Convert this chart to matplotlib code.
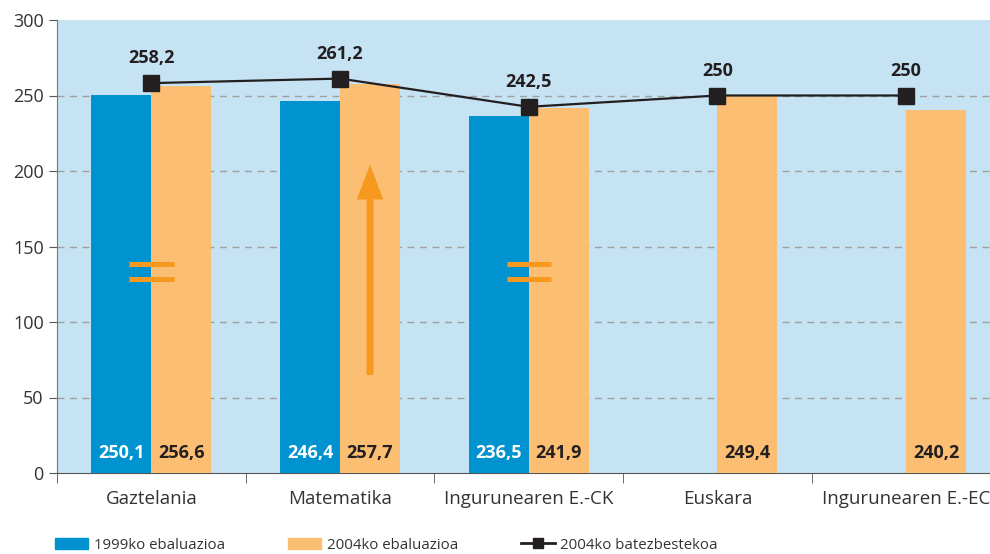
import numpy as np
import matplotlib.pyplot as plt
from matplotlib import font_manager
from matplotlib.patches import Patch, FancyArrowPatch
from matplotlib.lines import Line2D

# pick a narrow font if there is one
names = set(f.name for f in font_manager.fontManager.ttflist)
FONT = 'Liberation Sans Narrow' if 'Liberation Sans Narrow' in names else 'Open Sans'
plt.rcParams['font.family'] = [FONT, 'DejaVu Sans']

categories = ['Gaztelania', 'Matematika', 'Ingurunearen E.-CK', 'Euskara', 'Ingurunearen E.-EC']
eval_1999 = [250.1, 246.4, 236.5, np.nan, np.nan]
eval_2004 = [256.6, 257.7, 241.9, 249.4, 240.2]
avg_2004 = [258.2, 261.2, 242.5, 250, 250]
legend_labels = ['1999ko ebaluazioa', '2004ko ebaluazioa', '2004ko batezbestekoa']

BLUE = '#0093d0'
ORANGE = '#fbbe73'
DARK_ORANGE = '#f7981f'
BG = '#c5e3f3'
INK = '#231f20'

fig = plt.figure(figsize=(9.9, 5.54), dpi=100)
ax = fig.add_axes([57 / 990, 1 - 473 / 554, 1 - 57 / 990, (473 - 20) / 554])
ax.set_facecolor(BG)

x = np.arange(len(categories))
w = 0.318
ax.bar(x - w / 2, eval_1999, w, color=BLUE, zorder=3)
ax.bar(x + w / 2, eval_2004, w, color=ORANGE, zorder=3)
ax.plot(x, avg_2004, color=INK, lw=1.6, marker='s', ms=11, zorder=5)

# value labels
for i in range(len(categories)):
    if not np.isnan(eval_1999[i]):
        ax.text(x[i] - w / 2, 13, f'{eval_1999[i]:.1f}'.replace('.', ','), ha='center', va='center',
                color='white', fontsize=13, fontweight='bold', zorder=6)
    ax.text(x[i] + w / 2, 13, f'{eval_2004[i]:.1f}'.replace('.', ','), ha='center', va='center',
            color=INK, fontsize=13, fontweight='bold', zorder=6)
    lab = f'{avg_2004[i]:g}'.replace('.', ',')
    ax.annotate(lab, (x[i], avg_2004[i]), xytext=(0, 18), textcoords='offset points',
                ha='center', va='center', color=INK, fontsize=13, fontweight='bold', zorder=6)

# "=" signs for no change, arrow for increase
for i in [0, 2]:
    for yy in [128.5, 138.5]:
        ax.plot([x[i] - 0.117, x[i] + 0.12], [yy, yy], color=DARK_ORANGE, lw=3.6,
                solid_capstyle='butt', zorder=4)
arrow = FancyArrowPatch((x[1] + w / 2, 63), (x[1] + w / 2, 206),
                        arrowstyle='simple,head_length=25,head_width=19,tail_width=5',
                        mutation_scale=1, color=DARK_ORANGE, lw=0, zorder=4)
ax.add_patch(arrow)

ax.set_ylim(0, 300)
ax.set_xlim(-0.5, (990 - 150) / 189)
ax.set_yticks(range(0, 301, 50))
ax.tick_params(axis='y', labelsize=13, length=6, color='#555555', labelcolor='#333333')
ax.set_xticks(x)
ax.set_xticklabels(categories, fontsize=13.5, color='#333333')
ax.set_xticks(np.arange(len(categories)) - 0.5, minor=True)
ax.tick_params(axis='x', which='major', length=0, pad=12)
ax.tick_params(axis='x', which='minor', length=7, color='#555555')
for yy in range(50, 300, 50):
    ax.axhline(yy, color='#a0a0a0', lw=1, ls=(0, (5, 4)), zorder=1)
for s in ['top', 'right']:
    ax.spines[s].set_visible(False)
ax.spines['left'].set_color('#777777')
ax.spines['bottom'].set_color('#555555')

handles = [Patch(color=BLUE), Patch(color=ORANGE),
           Line2D([], [], color=INK, lw=2, marker='s', ms=7)]
fig.legend(handles, legend_labels, loc='lower left', bbox_to_anchor=(41 / 990, -0.022), ncol=3,
           frameon=False, fontsize=10.8, handlelength=2.25, handleheight=0.75,
           columnspacing=4.2, handletextpad=0.35, labelcolor='#333333')

fig.savefig('out.png', dpi=100)
